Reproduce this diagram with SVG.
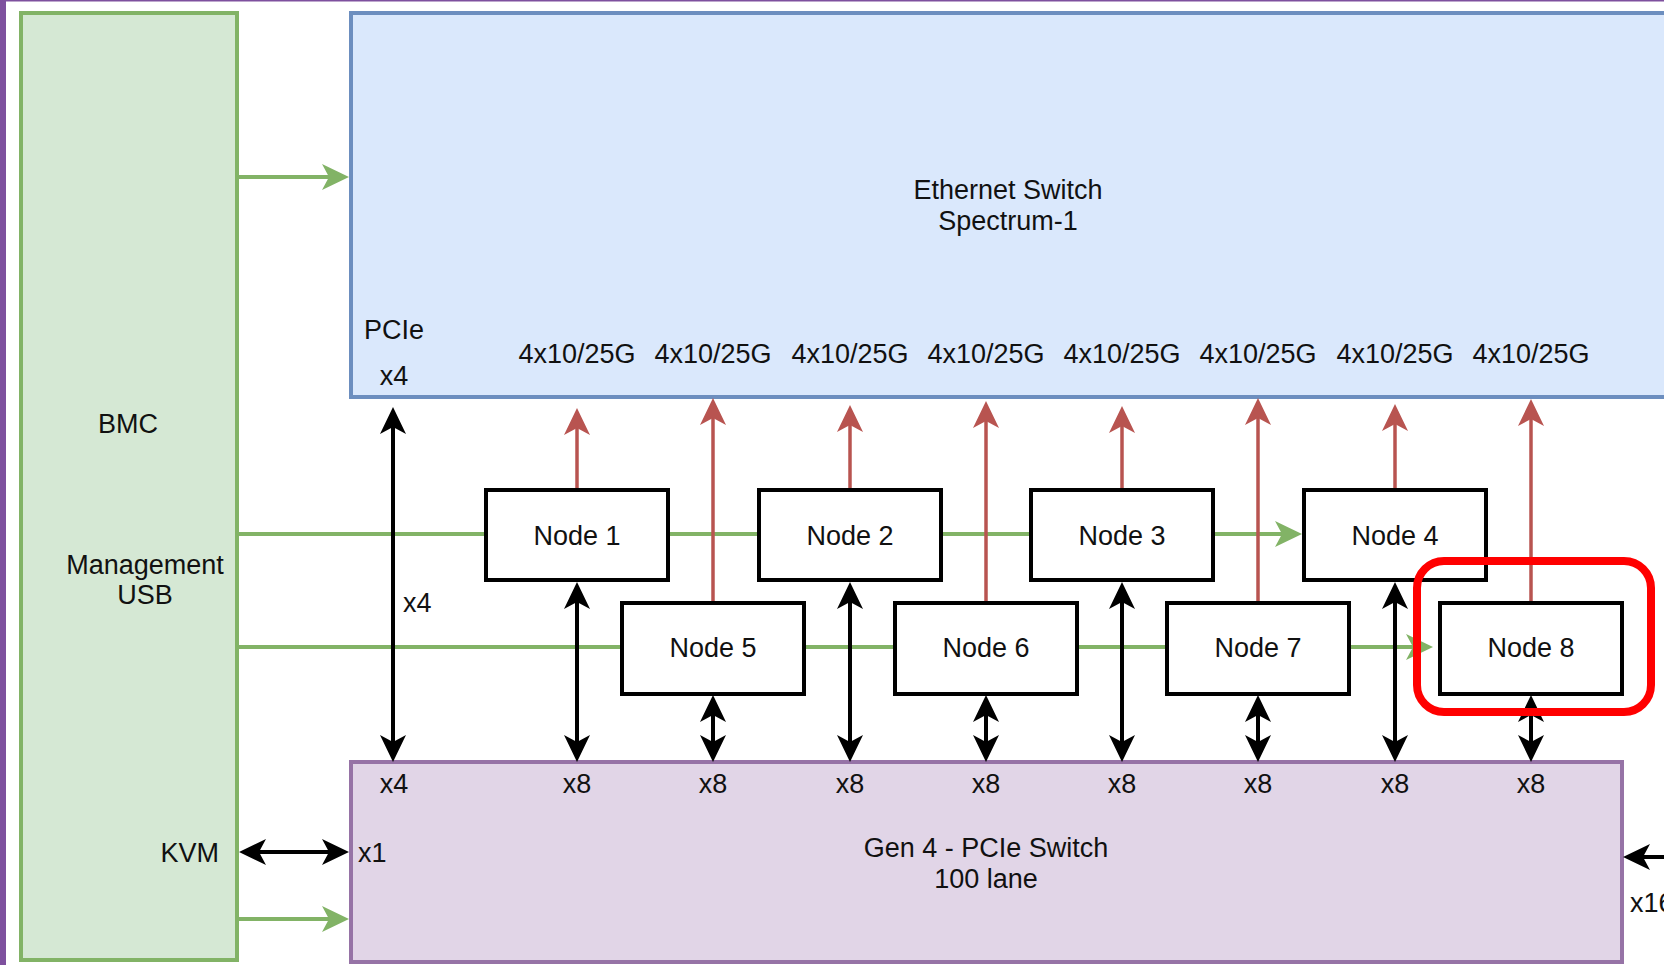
<svg xmlns="http://www.w3.org/2000/svg" width="1664" height="965" viewBox="0 0 1664 965">
<defs>
<style>
text{font-family:"Liberation Sans",Arial,sans-serif;font-size:27px;fill:#111}
.c{text-anchor:middle}
.node rect{fill:#fff;stroke:#000;stroke-width:4}
.g{stroke:#82b366;stroke-width:4;fill:none}
.r{stroke:#b85450;stroke-width:3.5;fill:none}
.k{stroke:#000;stroke-width:4;fill:none}
</style>
<marker id="mg" viewBox="-8 -14 29 28" refX="0" refY="0" markerWidth="29" markerHeight="28" markerUnits="userSpaceOnUse" orient="auto-start-reverse" overflow="visible"><path d="M20,0 L-7,-13 L0,0 L-7,13 Z" fill="#82b366"/></marker>
<marker id="mr" viewBox="-8 -14 29 28" refX="0" refY="0" markerWidth="29" markerHeight="28" markerUnits="userSpaceOnUse" orient="auto-start-reverse" overflow="visible"><path d="M20,0 L-7,-13 L0,0 L-7,13 Z" fill="#b85450"/></marker>
<marker id="mk" viewBox="-8 -14 29 28" refX="0" refY="0" markerWidth="29" markerHeight="28" markerUnits="userSpaceOnUse" orient="auto-start-reverse" overflow="visible"><path d="M20,0 L-7,-13 L0,0 L-7,13 Z" fill="#000"/></marker>
</defs>
<rect x="0" y="0" width="1664" height="965" fill="#fff"/>
<g id="frame">
<rect x="0" y="0" width="6" height="965" fill="#7e509e"/>
<rect x="0" y="0" width="1664" height="1.5" fill="#7e509e"/>
</g>
<g id="bmc">
<rect x="21" y="13" width="216" height="947" fill="#d5e8d4" stroke="#82b366" stroke-width="4"/>
<text class="c" x="128" y="433">BMC</text>
<text class="c" x="145" y="574">Management</text>
<text class="c" x="145" y="604">USB</text>
<text x="219" y="862" text-anchor="end">KVM</text>
</g>
<g id="ethernet-switch">
<rect x="351" y="13" width="1360" height="384" fill="#dae8fc" stroke="#6c8ebf" stroke-width="4"/>
<text class="c" x="1008" y="199">Ethernet Switch</text>
<text class="c" x="1008" y="230">Spectrum-1</text>
<text class="c" x="394" y="339">PCIe</text>
<text class="c" x="394" y="385">x4</text>
<text class="c" x="577" y="363">4x10/25G</text>
<text class="c" x="713" y="363">4x10/25G</text>
<text class="c" x="850" y="363">4x10/25G</text>
<text class="c" x="986" y="363">4x10/25G</text>
<text class="c" x="1122" y="363">4x10/25G</text>
<text class="c" x="1258" y="363">4x10/25G</text>
<text class="c" x="1395" y="363">4x10/25G</text>
<text class="c" x="1531" y="363">4x10/25G</text>
</g>
<g id="pcie-switch">
<rect x="351" y="762" width="1271" height="200" fill="#e1d5e7" stroke="#9673a6" stroke-width="4"/>
<text class="c" x="394" y="793">x4</text>
<text class="c" x="577" y="793">x8</text>
<text class="c" x="713" y="793">x8</text>
<text class="c" x="850" y="793">x8</text>
<text class="c" x="986" y="793">x8</text>
<text class="c" x="1122" y="793">x8</text>
<text class="c" x="1258" y="793">x8</text>
<text class="c" x="1395" y="793">x8</text>
<text class="c" x="1531" y="793">x8</text>
<text x="358" y="862">x1</text>
<text class="c" x="986" y="857">Gen 4 - PCIe Switch</text>
<text class="c" x="986" y="888">100 lane</text>
</g>
<g id="connectors">
<line class="g" x1="239" y1="177" x2="329" y2="177" marker-end="url(#mg)"/>
<line class="g" x1="239" y1="534" x2="1282" y2="534" marker-end="url(#mg)"/>
<line class="g" x1="239" y1="647" x2="1413" y2="647" marker-end="url(#mg)"/>
<line class="g" x1="239" y1="919" x2="329" y2="919" marker-end="url(#mg)"/>
<line class="k" x1="259" y1="852" x2="329" y2="852" marker-start="url(#mk)" marker-end="url(#mk)"/>
<line class="k" x1="1700" y1="857" x2="1643" y2="857" marker-end="url(#mk)"/>
<line class="k" x1="393" y1="427" x2="393" y2="742" marker-start="url(#mk)" marker-end="url(#mk)"/>
<text x="403" y="612">x4</text>
<line class="k" x1="577" y1="602" x2="577" y2="742" marker-start="url(#mk)" marker-end="url(#mk)"/>
<line class="k" x1="850" y1="602" x2="850" y2="742" marker-start="url(#mk)" marker-end="url(#mk)"/>
<line class="k" x1="1122" y1="602" x2="1122" y2="742" marker-start="url(#mk)" marker-end="url(#mk)"/>
<line class="k" x1="1395" y1="602" x2="1395" y2="742" marker-start="url(#mk)" marker-end="url(#mk)"/>
<line class="k" x1="713" y1="715" x2="713" y2="742" marker-start="url(#mk)" marker-end="url(#mk)"/>
<line class="k" x1="986" y1="715" x2="986" y2="742" marker-start="url(#mk)" marker-end="url(#mk)"/>
<line class="k" x1="1258" y1="715" x2="1258" y2="742" marker-start="url(#mk)" marker-end="url(#mk)"/>
<line class="k" x1="1531" y1="715" x2="1531" y2="742" marker-start="url(#mk)" marker-end="url(#mk)"/>
<line class="r" x1="577" y1="490" x2="577" y2="428" marker-end="url(#mr)"/>
<line class="r" x1="850" y1="490" x2="850" y2="425" marker-end="url(#mr)"/>
<line class="r" x1="1122" y1="490" x2="1122" y2="426" marker-end="url(#mr)"/>
<line class="r" x1="1395" y1="490" x2="1395" y2="424" marker-end="url(#mr)"/>
<line class="r" x1="713" y1="603" x2="713" y2="418" marker-end="url(#mr)"/>
<line class="r" x1="986" y1="603" x2="986" y2="421" marker-end="url(#mr)"/>
<line class="r" x1="1258" y1="603" x2="1258" y2="418" marker-end="url(#mr)"/>
<line class="r" x1="1531" y1="603" x2="1531" y2="419" marker-end="url(#mr)"/>
</g>
<g id="node1" class="node"><rect x="486" y="490" width="182" height="90"/><text class="c" x="577" y="545">Node 1</text></g>
<g id="node2" class="node"><rect x="759" y="490" width="182" height="90"/><text class="c" x="850" y="545">Node 2</text></g>
<g id="node3" class="node"><rect x="1031" y="490" width="182" height="90"/><text class="c" x="1122" y="545">Node 3</text></g>
<g id="node4" class="node"><rect x="1304" y="490" width="182" height="90"/><text class="c" x="1395" y="545">Node 4</text></g>
<g id="node5" class="node"><rect x="622" y="603" width="182" height="91"/><text class="c" x="713" y="657">Node 5</text></g>
<g id="node6" class="node"><rect x="895" y="603" width="182" height="91"/><text class="c" x="986" y="657">Node 6</text></g>
<g id="node7" class="node"><rect x="1167" y="603" width="182" height="91"/><text class="c" x="1258" y="657">Node 7</text></g>
<g id="node8" class="node"><rect x="1440" y="603" width="182" height="91"/><text class="c" x="1531" y="657">Node 8</text></g>
<g id="highlight">
<rect x="1417" y="561" width="234" height="151" rx="27" ry="27" fill="none" stroke="#ff0000" stroke-width="8"/>
</g>
<text x="1630" y="912">x16</text>
</svg>
